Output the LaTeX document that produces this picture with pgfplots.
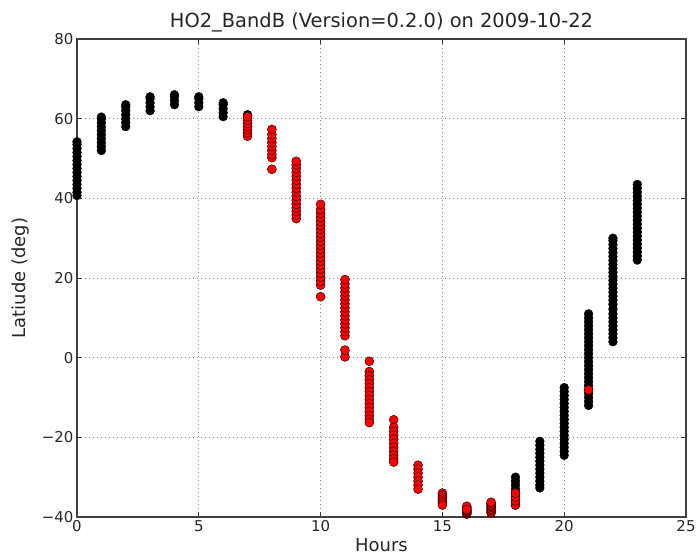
\documentclass[border=0pt]{standalone}
\usepackage{fontspec}
\setmainfont{DejaVu Sans}
\usepackage{pgfplots}
\pgfplotsset{compat=1.18}
\begin{document}
\begin{tikzpicture}
\useasboundingbox (-77bp,-40bp) rectangle (622bp,517bp);
\begin{axis}[
  at={(0,0)}, anchor=south west,
  width=609bp, height=478bp, scale only axis,
  xmin=0, xmax=25, ymin=-40, ymax=80,
  xtick={0,5,10,15,20,25},
  ytick={-40,-20,0,20,40,60,80},
  yticklabels={−40,−20,0,20,40,60,80},
  xticklabels={0,5,10,15,20,25},
  tick align=inside, major tick length=5bp,
  tick style={black!80, line width=0.7bp},
  axis line style={black!75, line width=1.1bp},
  grid=major, major grid style={dash pattern=on 1bp off 3bp, black!50, line width=0.7bp},
  ticklabel style={font=\fontsize{15}{18}\selectfont, text=black!85},
  xlabel={\fontsize{18}{20}\selectfont Hours},
  ylabel={\fontsize{18}{20}\selectfont Latiude (deg)},
  ylabel style={yshift=6bp},
  label style={text=black!85},
  title={\fontsize{19.5}{22}\selectfont HO2\_BandB (Version=0.2.0) on 2009-10-22},
  title style={text=black!85, yshift=-3bp},
  clip=true,
]
\addplot[only marks, mark=*, mark size=4.4bp, mark options={fill=black, draw=black}] coordinates {
(0,40.7)(0,41.5)(0,42.5)(0,43.5)(0,44.5)(0,45.5)(0,46.5)(0,47.5)(0,48.5)(0,49.5)(0,50.5)(0,51.5)(0,52.5)(0,53.5)(0,54.2)
(1,52)(1,53)(1,54)(1,55)(1,56)(1,57)(1,58)(1,59)(1,60)(1,60.4)
(2,58)(2,59)(2,60)(2,61)(2,62)(2,63)(2,63.5)
(3,62)(3,63)(3,64)(3,65)(3,65.5)
(4,63.5)(4,64.5)(4,65.5)(4,66)
(5,63)(5,64)(5,65)(5,65.5)
(6,60.5)(6,61.5)(6,62.5)(6,63.5)(6,64)
(7,59)(7,60)(7,61)
(16,-39.3)(16,-38.5)(16,-37.5)
(18,-37)(18,-36)(18,-35)(18,-34)(18,-33)(18,-32)(18,-31)(18,-30)
(19,-32.7)(19,-32)(19,-31)(19,-30)(19,-29)(19,-28)(19,-27)(19,-26)(19,-25)(19,-24)(19,-23)(19,-22)(19,-21)
(20,-24.5)(20,-23.5)(20,-22.5)(20,-21.5)(20,-20.5)(20,-19.5)(20,-18.5)(20,-17.5)(20,-16.5)(20,-15.5)(20,-14.5)(20,-13.5)(20,-12.5)(20,-11.5)(20,-10.5)(20,-9.5)(20,-8.5)(20,-7.5)
(21,-12)(21,-11)(21,-10)(21,-9)(21,-8)(21,-7)(21,-6)(21,-5)(21,-4)(21,-3)(21,-2)(21,-1)(21,0)(21,1)(21,2)(21,3)(21,4)(21,5)(21,6)(21,7)(21,8)(21,9)(21,10)(21,11)
(22,4)(22,5)(22,6)(22,7)(22,8)(22,9)(22,10)(22,11)(22,12.2)(22,13.4)(22,14.4)(22,15.4)(22,16.4)(22,17.4)(22,18.4)(22,19.4)(22,20.4)(22,21.4)(22,22.4)(22,23.4)(22,24.4)(22,25.4)(22,26.4)(22,27.4)(22,28.4)(22,29.4)(22,30)
(23,24.5)(23,25.5)(23,26.5)(23,27.5)(23,28.5)(23,29.5)(23,30.5)(23,31.5)(23,32.5)(23,33.5)(23,34.5)(23,35.5)(23,36.5)(23,37.5)(23,38.5)(23,39.5)(23,40.5)(23,41.5)(23,42.5)(23,43.5)
};
\addplot[only marks, mark=*, mark size=4.5bp, mark options={fill=red, draw=black!80!red, line width=0.5bp}] coordinates {
(7,55.6)(7,56.4)(7,57.2)(7,58)(7,58.8)(7,59.6)(7,60.5)
(8,47.3)(8,50.2)(8,51)(8,52)(8,53)(8,54)(8,55)(8,56)(8,57.3)
(9,34.9)(9,35.8)(9,36.7)(9,37.6)(9,38.5)(9,39.5)(9,40.5)(9,41.5)(9,42.5)(9,43.5)(9,44.5)(9,45.5)(9,46.5)(9,47.5)(9,48.4)(9,49.3)
(10,15.3)(10,18.2)(10,19.2)(10,20.2)(10,21.2)(10,22.2)(10,23.2)(10,24.2)(10,25.2)(10,26.2)(10,27.2)(10,28.2)(10,29.2)(10,30.2)(10,31.2)(10,32.2)(10,33.2)(10,34.2)(10,35.2)(10,36.2)(10,37.2)(10,38.5)
(11,0.2)(11,1.9)(11,5.5)(11,6.5)(11,7.5)(11,8.5)(11,9.5)(11,10.5)(11,11.5)(11,12.5)(11,13.5)(11,14.5)(11,15.5)(11,16.5)(11,17.5)(11,18.5)(11,19.6)
(12,-0.9)(12,-3.5)(12,-4.5)(12,-5.5)(12,-6.5)(12,-7.5)(12,-8.5)(12,-9.5)(12,-10.5)(12,-11.5)(12,-12.5)(12,-13.5)(12,-14.5)(12,-15.5)(12,-16.3)
(13,-15.6)(13,-17.5)(13,-18.5)(13,-19.5)(13,-20.5)(13,-21.5)(13,-22.5)(13,-23.5)(13,-24.5)(13,-25.4)(13,-26.2)
(14,-27)(14,-28)(14,-29)(14,-30)(14,-31)(14,-32)(14,-33)
(15,-34)(15,-34.5)(15,-35)(15,-35.5)(15,-36)(15,-36.5)(15,-37)
(16,-39.2)(16,-39)(16,-38.8)(16,-38.6)(16,-38.4)(16,-38.2)(16,-37.9)(16,-37.6)(16,-37.3)(16,-38.1)
(17,-39)(17,-38.7)(17,-38.3)(17,-38)(17,-37.6)(17,-37.3)(17,-37)(17,-36.6)(17,-36.3)
(18,-37)(18,-36)(18,-35)(18,-34)
(21,-8.1)
};
\end{axis}
\end{tikzpicture}
\end{document}
